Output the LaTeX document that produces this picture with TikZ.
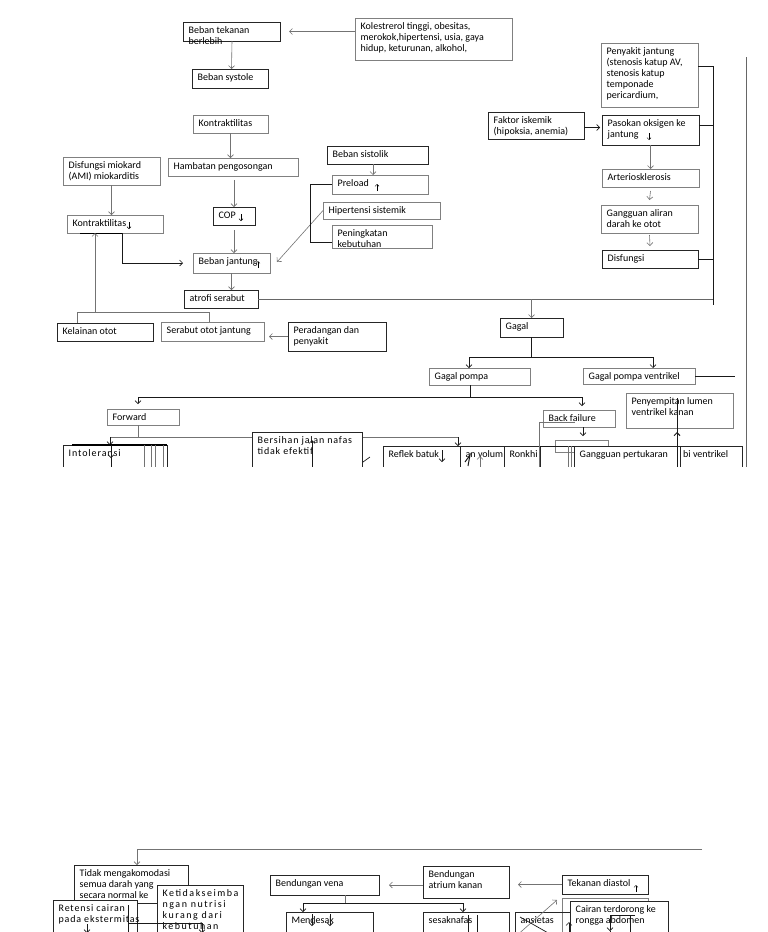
\documentclass[tikz,border=0pt]{standalone}
\usepackage{fontspec}
\setmainfont{Carlito}
\newfontfamily\wideA[LetterSpace=8]{Carlito}
\newfontfamily\wideB[LetterSpace=15]{Carlito}
\newfontfamily\wideC[LetterSpace=9]{Carlito}
\usetikzlibrary{arrows.meta}
\tikzset{
 boxst/.style={rectangle, inner sep=0pt, outer sep=0pt, anchor=north west, line width=0.6pt},
 dkb/.style={draw=black!85},
 gyb/.style={draw=black!50},
 txt/.style={anchor=north west, inner sep=0pt, align=left, font=\fontsize{10}{11}\selectfont},
 bxtxt/.style={},
 ln/.style={draw=black!55, line width=0.6pt},
 dk/.style={draw=black!90, line width=0.7pt},
 ar/.style={-{Straight Barb[length=3pt,width=6pt,line width=0.6pt]}},
 sar/.style={-{Straight Barb[length=2pt,width=4pt]}, draw=black, line width=0.5pt},
}
\newcommand\bx[7][dkb]{%
 \pgfmathsetlengthmacro\bxw{(#5)-(#3)}%
 \pgfmathsetlengthmacro\bxh{(#6)-(#4)}%
 \node[boxst,#1,minimum width=\bxw,minimum height=\bxh] (#2) at (#3,#4) {};%
 \node[txt,bxtxt] (#2t) at ([xshift=5.5pt,yshift=-3pt]#2.north west) {\rule{0pt}{8pt}#7};%
}
\newcommand\sdn[2]{\draw[sar] (#1,#2) -- ++(0,7);}
\newcommand\sua[2]{\draw[sar] (#1,#2) -- ++(0,-7);}
\begin{document}
\begin{tikzpicture}[x=1pt,y=-1pt]
\useasboundingbox (0,0) rectangle (768,932);
\fill[white] (0,0) rectangle (768,932);

% ---------- top section boxes ----------
\bx[dkb]{bt}{183}{22}{280}{41}{Beban tekanan\\berlebih}
\bx[gyb]{kol}{355}{18}{512}{60}{Kolestrerol tinggi, obesitas,\\merokok,hipertensi, usia, gaya\\hidup, keturunan, alkohol,}
\bx[dkb]{bs}{192}{69}{268}{88}{Beban systole}
\bx[gyb]{ka}{193}{115}{268}{133}{Kontraktilitas}
\bx[gyb]{hp}{168}{158}{298}{176}{Hambatan pengosongan}
\bx[gyb]{dm}{63}{157}{160}{185}{Disfungsi miokard\\(AMI) miokarditis}
\bx[gyb]{kb}{67}{215}{163}{233}{Kontraktilitas}
\bx[dkb]{cop}{213}{207}{255}{225}{COP}
\bx[gyb]{bj}{193}{253}{270}{273}{Beban jantung}
\bx[dkb]{bsis}{327}{146}{428}{164}{Beban sistolik}
\bx[gyb]{pre}{332}{175}{428}{194}{Preload}
\bx[gyb]{hip}{323}{202}{440}{219}{Hipertensi sistemik}
\bx[gyb]{pen}{332}{225}{432}{248}{Peningkatan\\kebutuhan}
\bx[gyb]{pj}{601}{43}{698}{107}{Penyakit jantung\\(stenosis katup AV,\\stenosis katup\\temponade\\pericardium,}
\bx[dkb]{fi}{488}{112}{584}{139}{Faktor iskemik\\(hipoksia, anemia)}
\bx[dkb]{po}{602}{115}{699}{145}{Pasokan oksigen ke\\jantung}
\bx[gyb]{art}{602}{169}{699}{187}{Arteriosklerosis}
\bx[gyb]{ga}{601}{205}{698}{233}{Gangguan aliran\\darah ke otot}
\bx[dkb]{dis}{602}{250}{698}{268}{Disfungsi}
\bx[dkb]{atr}{184}{290}{258}{308}{atrofi serabut}
\bx[dkb]{ke}{57}{323}{153}{341}{Kelainan otot}
\bx[gyb]{so}{161}{322}{264}{341}{Serabut otot jantung}
\bx[dkb]{pd}{288}{322}{386}{351}{Peradangan dan\\penyakit}
\bx[dkb]{gg}{500}{318}{563}{337}{Gagal}
\bx[gyb]{gp}{429}{368}{530}{385}{Gagal pompa}
\bx[gyb]{gpv}{583}{368}{695}{384}{Gagal pompa ventrikel}
\bx[gyb]{fw}{107}{409}{179}{425}{Forward}
\bx[gyb]{bf}{543}{410}{615}{427}{Back failure}
\bx[gyb]{ps}{626}{393}{733}{428}{Penyempitan lumen\\ventrikel kanan}

% small arrows in texts
\sdn{129}{222}
\sdn{241}{214}
\sua{258}{268}
\sua{377}{191}
\sdn{649}{133}

% ---------- top connectors ----------
\draw[ln,ar] (kol.west |- bt.east) -- ([xshift=9pt]bt.east);
\draw[ln,ar] ([xshift=0.5pt]bt.south) -- (bt.south |- bs.north);
\draw[ln,ar] (ka.south) -- (ka.south |- hp.north);
\draw[ln,ar] ([yshift=-4pt]cop.north |- hp.south) -- (cop.north);
\draw[ln,ar] ([yshift=-5pt]cop.south) -- (cop.south |- bj.north);
\draw[ln,ar] (bj.south) -- (bj.south |- atr.north);
\draw[ln,ar] (dm.south) -- (dm.south |- kb.north);
\draw[line width=1pt] ([xshift=13pt]kb.south west) -- ([xshift=7pt]kb.south);
\draw[dk,ar] ([xshift=7pt]kb.south) |- ([xshift=-10pt]bj.west);
\draw[ln,ar] (hip.west) -- ([xshift=7pt,yshift=1pt]bj.east);
\draw[ln,ar] ([xshift=-4.5pt]bsis.south) -- ([xshift=-4.5pt]bsis.south |- pre.north);
\draw[dk] (pre.west) -- ++(-22,0) |- ([yshift=-6pt]pen.west);
% bracket below atrofi
\coordinate (brL) at (77,312);
\coordinate (brR) at (209,312);
\draw[ln] (ke.north west -| brL) -- (brL) -- (brR) -- (so.north west -| brR);
\draw[ln,ar] ([xshift=-20pt]kb.south |- brL) -- ([xshift=-20pt]kb.south);
\draw[ln,ar] (pd.west) -- ([xshift=5pt]so.east |- pd.west);
% right column
\coordinate (R1) at (713,66);
\coordinate (R2) at (713,305);
\draw[dk] ([yshift=9pt]pj.east) -- (R1) -- (R2);
\draw[dk] ([yshift=5pt]po.east) -- ([yshift=5pt]po.east -| R1);
\draw[dk] (dis.east) -- (dis.east -| R1);
\draw[dk,ar] ([yshift=-2pt]fi.east) -- ++(16,0);
\draw[ln,ar] (po.south) -- (po.south |- art.north);
\draw[ln,ar] ([yshift=-4pt]art.south) -- ([yshift=5pt]ga.north);
\draw[ln,ar] ([yshift=-2pt]ga.south) -- ([yshift=4pt]dis.north);
\draw[draw=black!60, line width=1pt] (atr.east) -- (atr.east -| R1);
\draw[ln,ar] (gg.north |- atr.east) -- (gg.north);
% gagal tree
\draw[dk] (gg.south) -- ++(0,20) coordinate (gj);
\draw[dk] ([xshift=-10.5pt]gp.north |- gj) -- ([xshift=14pt]gpv.north |- gj);
\draw[dk,ar] ([xshift=-10.5pt]gp.north |- gj) -- ([xshift=-10.5pt]gp.north);
\draw[dk,ar] ([xshift=14pt]gpv.north |- gj) -- ([xshift=14pt]gpv.north);
\draw[dk] (gpv.east) -- ++(40,0);
\draw[dk] ([xshift=-9.5pt]gp.south) -- ++(0,12) coordinate (gk);
\draw[dk] ([xshift=-5pt]fw.north |- gk) -- ([xshift=3pt]bf.north |- gk);
\draw[dk,ar,shorten >=5pt] ([xshift=-5pt]fw.north |- gk) -- ([xshift=-5pt]fw.north);
\draw[dk,ar,shorten >=4pt] ([xshift=3pt]bf.north |- gk) -- ([xshift=3pt]bf.north);
\draw[draw=black!60, line width=1pt] (746,57) -- (746,470);

% ---------- middle row (cut by page) ----------
\bx[dkb]{intol}{63}{445}{167}{480}{{\wideC Intoleransi}}
\draw[ln] ([xshift=-5pt]fw.south) -- ++(0,12) coordinate (fj);
\bx[dkb]{reflek}{383}{446}{460}{480}{Reflek batuk}
\draw[ln] ([xshift=-5pt]intol.north |- fj) -- ([xshift=-2pt]reflek.north east |- fj);
\draw[dk,ar] ([xshift=-5pt]intol.north |- fj) -- ([xshift=-5pt]intol.north);
\draw[dk,ar] ([xshift=-2pt]reflek.north east |- fj) -- ([xshift=-2pt]reflek.north east);
\draw[line width=1.2pt] ([xshift=9pt]intol.north west) -- (intol.north east);
\foreach \dx in {81,88,92,100} \draw[ln] ([xshift=\dx pt]intol.north west) -- ++(0,30);
\draw[dk,ar] ([xshift=-4pt]intol.north) -- ++(0,13);
\draw[dk] ([xshift=-4pt]intol.north) -- ++(0,30);
\bx[dkb,fill=white]{bers}{252}{432}{362}{480}{{\wideA Bersihan jalan nafas}\\{\wideA tidak efektif}}
\draw[dk,ar] ([xshift=5pt]bers.south) -- ([xshift=5pt,yshift=-8pt]bers.north);
\draw[dk] (363,462) -- (370,457);
\bx[gyb]{woc}{555}{440}{608}{452}{}
\bx[dkb,fill=white]{vol}{460}{446}{504}{480}{an volum}
\bx[dkb,fill=white]{ronk}{504}{446}{540}{480}{Ronkhi}
\bx[dkb,fill=white]{gang}{574}{446}{680}{480}{Gangguan pertukaran}
\bx[dkb,fill=white]{vent}{680}{446}{742}{480}{\hspace{-2.5pt}bi ventrikel}
\draw[dk] (540,446) -- (574,446);
\draw[ln] (568,446) -- (568,480);
\draw[ln] (571,446) -- (571,480);
\draw[dk,ar] (442,450) -- (442,462);
\draw[ln,ar] (480,468) -- (480,456);
\draw[dk,line width=1pt] (465,462) -- (470,455) -- (468,466);
\draw[ln] ([xshift=32pt,yshift=5pt]bf.south west) -- ([xshift=-4pt,yshift=5pt]bf.south west) -- ++(0,60);
\draw[dk,ar] ([xshift=4pt]bf.south) -- ++(0,9);
\draw[dk] ([xshift=-2.5pt,yshift=-5pt]ps.north) -- ++(0,80);
\draw[dk,line width=1pt,-{Straight Barb[length=3pt,width=6pt]}] ([xshift=-2.5pt,yshift=-14pt]ps.south) -- ([xshift=-2.5pt,yshift=-4pt]ps.south);

% page gap
\fill[white] (0,466.5) rectangle (768,838);

% ---------- bottom section ----------
\bx[dkb]{tm}{74}{865}{188}{903}{Tidak mengakomodasi\\semua darah yang\\secara normal ke}
\coordinate (B1) at (702,849);
\draw[ln,ar] (B1) -| ([xshift=6pt]tm.north);
\bx[dkb,fill=white]{ket}{157}{885}{243}{945}{{\wideB Ketidakseimba}\\{\wideB ngan nutrisi}\\{\wideB kurang dari}\\{\wideB kebutuhan}}
\bx[dkb,fill=white]{ret}{53}{900}{137}{945}{{\wideA Retensi cairan}\\{\wideA pada ekstermitas}}
\draw[dk] (128,905) -- (128,940);
\draw[dk] (128,923) -- (202,923);
\draw[dk,ar] (202,923) -- (202,933);
\draw[dk,ar] (87,924) -- (87,933);
\bx[dkb]{bv}{270}{875}{379}{895}{Bendungan vena}
\bx[dkb]{ba}{423}{866}{509}{898}{Bendungan\\atrium kanan}
\bx[dkb]{td}{562}{875}{648}{894}{Tekanan diastol}
\sua{636}{892}
\draw[ln,ar] ([yshift=-3pt]ba.west) -- ++(-34,0);
\draw[ln,ar] (td.west) -- ++(-44,0);
\bx[gyb]{bh}{562}{898}{648}{945}{}
\bx[dkb,fill=white]{cai}{570}{901}{668}{945}{Cairan terdorong ke\\rongga abdomen}
\draw[dk] (610,915) -- (635,915);
\draw[dk,ar] (610,915) -- (610,931);
\draw[dk] (610,931) -- (610,940);
\draw[dk] (630,915) -- (630,940);
\bx[dkb]{mend}{286}{912}{373}{945}{Mendesak}
\bx[dkb]{sesak}{423}{912}{509}{945}{sesaknafas}
\bx[dkb]{ans}{515}{912}{570}{945}{ansietas}
\draw[ln] ([xshift=20.5pt]bv.south) -- ++(0,8) coordinate (bvj);
\draw[dk] ([xshift=-26.5pt]mend.north |- bvj) -- ([xshift=-3pt]sesak.north |- bvj);
\draw[dk,ar] ([xshift=-26.5pt]mend.north |- bvj) -- ([xshift=-26.5pt]mend.north);
\draw[dk,ar] ([xshift=-3pt]sesak.north |- bvj) -- ([xshift=-3pt]sesak.north);
\draw[dk,ar] (312,914) -- (312,926);
\draw[dk,ar] (330,914) -- (330,926);
\draw[dk,ar] ([xshift=24pt,yshift=9pt]mend.south west) -- ([xshift=-3pt,yshift=9pt]sesak.south west);
\draw[dk] (468,915) -- (468,940);
\draw[dk] (477,915) -- (477,940);
\draw[ln,ar] ([yshift=8pt]ans.south west) -- ([xshift=-5pt,yshift=-2pt]bh.north west);
\draw[dk] (520,917) -- (550,934);
\draw[dk,ar] (569,936) -- (569,922);
\end{tikzpicture}
\end{document}
